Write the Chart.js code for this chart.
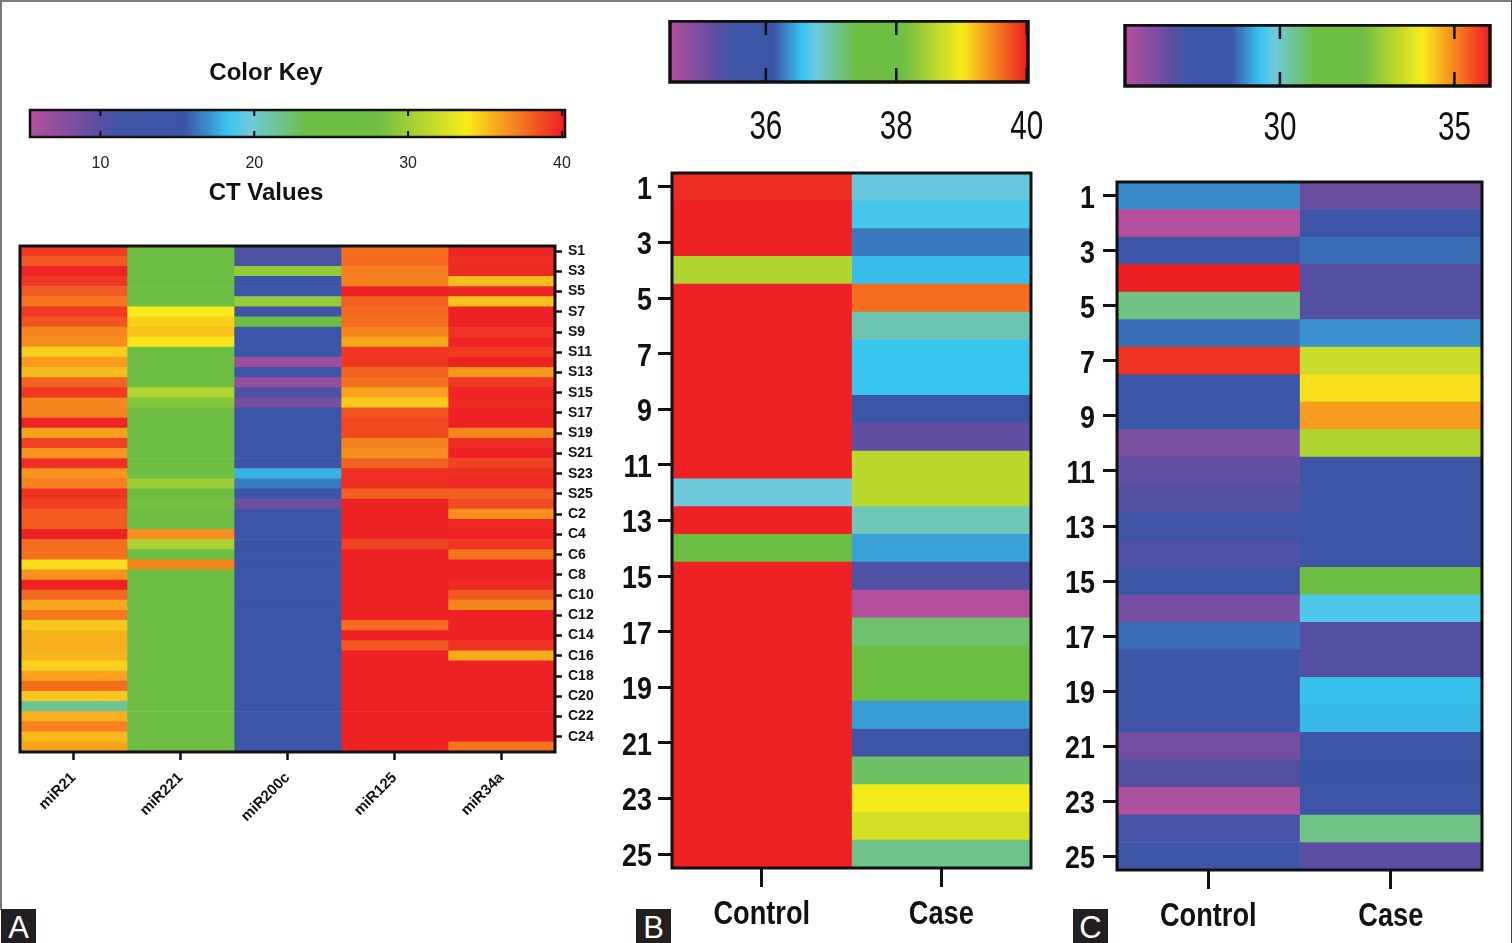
<!DOCTYPE html>
<html><head><meta charset="utf-8">
<script src="https://cdn.jsdelivr.net/npm/chart.js@4"></script>
<style>
html,body{margin:0;padding:0;background:#fff;overflow:hidden}
#page{position:relative;width:1512px;height:943px;background:#fff;overflow:hidden}
#page canvas{position:absolute;filter:blur(.55px)}
.edge{position:absolute;background:#7b7b7b}
.tag{position:absolute;top:909px;width:35px;height:34px;background:#231f20;color:#fff;font:31px/37px "Liberation Sans",sans-serif;text-align:center}
</style></head><body><div id="page">
<div class="edge" style="left:0;top:0;width:1512px;height:2px"></div>
<div class="edge" style="left:0;top:0;width:2px;height:910px"></div>
<div class="edge" style="left:1511px;top:0;width:1px;height:943px;background:#444"></div>
<div class="tag" style="left:1px">A</div>
<div class="tag" style="left:636px">B</div>
<div class="tag" style="left:1073px">C</div>
</div>
<script>
// ---------- categories ----------
const rowsA = ['S1','S2','S3','S4','S5','S6','S7','S8','S9','S10','S11','S12','S13','S14','S15','S16','S17','S18','S19','S20','S21','S22','S23','S24','S25','C1','C2','C3','C4','C5','C6','C7','C8','C9','C10','C11','C12','C13','C14','C15','C16','C17','C18','C19','C20','C21','C22','C23','C24','C25'];
const rowsBC = ['1','2','3','4','5','6','7','8','9','10','11','12','13','14','15','16','17','18','19','20','21','22','23','24','25'];
const colsA = ['miR21','miR221','miR200c','miR125','miR34a'];
const colsBC = ['Control','Case'];
// ---------- colour key ----------
const keyStops = [0,0.13,0.17,0.29,0.37,0.41,0.52,0.65,0.815,0.89,1];
const keyColors = ['#b44f9e','#5a4ea2','#3f55a6','#3b55a6','#38c5f0','#6ec9dc','#6fbe44','#6fbe44','#f8ec1a','#f7941e','#ed1c24'];
const rangeA = [5.42,40.2], rangeB = [34.53,40.02], rangeC = [25.56,36.02];
const keyTicksA = [10,20,30,40], keyTicksB = [36,38,40], keyTicksC = [30,35];
// ---------- CT values, panel A ----------
const miR21 = [39.2,38.3,39.9,39.3,38.2,37.4,39.2,38.4,36.8,36.6,34.7,36.2,35.2,37.9,39.2,36.8,36.9,39.9,36,39,36.4,39.6,36.4,37,39.5,39,38.2,38.1,40,37.6,37.6,34.2,36.5,40,37.8,35.8,37.2,34.8,35.5,35.6,35.4,34.6,36,37.6,34.9,21.5,35.5,37,35.3,35.9];
const miR221 = [26,26.5,27.5,26,26,28,33.8,34.6,35,34,26,26,26,26,30.8,29,26,26,28,28,26.5,26,26,30,26,28.3,26,26.8,36.6,30.5,27,36.8,26.5,26.5,26,26,26,26,26,26.3,26,26.6,26,26,26,26,26,26,26,26];
const miR200c = [10.5,10.8,29.5,13,13,29.7,12,26,13,13,13,6.5,14,7,10.5,8.5,13,13,13,13,13,14,17.8,16.5,13,9,13,13.5,14.5,15,12.5,15,13,13,13,15.5,13,13,13,13,13,13,13,13,13,13,13,13,13,13];
const miR125 = [37.6,37.7,37,37,40,38,37.7,37.6,36.8,35.8,39.3,39.3,38,37.5,36,34.8,38.4,38.8,38.8,37,36.6,38,39.6,39.7,38,40,40,40,40,39,40,40,40,40,40,40,40,37.7,40,38.3,40,40,40,40,40,40,40,40,40,40];
const miR34a = [39.9,39.7,39.8,35.2,39.9,35,40,40,39.4,39.9,39.2,40,36.3,39.3,39.9,39.8,40,40,36.8,39.7,40,39,39.6,39.8,38,38.7,36.5,39.8,40,39.4,37.4,40,40,39.7,38.3,36.8,40,40,40,39.5,35.6,40,40,40,40,40,40,40,40,37.4];
// ---------- CT values, panel B ----------
const controlB = [39.94,40,40,38.54,40,40,40,40,40,40,40,36.78,40,37.71,40,40,40,40,40,40,40,40,40,40,40];
const caseB = [36.75,36.62,36.26,36.53,39.61,36.95,36.57,36.57,35.9,35.19,38.59,38.59,36.92,36.42,35.33,34.53,37.22,37.71,37.71,36.4,35.63,37.25,38.98,38.76,37.11];
// ---------- CT values, panel C ----------
const controlC = [29,25.56,28.1,36,30.54,28.76,35.8,28.1,28.1,26.45,26.8,27,27.6,27.08,27.8,26.5,28.76,27.6,27.7,27.7,26.55,27,25.7,27.18,27.8];
const caseC = [26.65,28.1,28.76,27,27,29.05,33.48,34.2,34.8,33.17,28.1,28.1,28.1,28.1,31.6,29.6,27,27,29.4,29.33,28.1,28.44,28.1,30.5,26.9];

const hex = h => [1,3,5].map(i => parseInt(h.substr(i,2),16));
function colorOf(v, range){
  const f = Math.min(1, Math.max(0, (v-range[0])/(range[1]-range[0])));
  let i = 0; while (i < keyStops.length-2 && f > keyStops[i+1]) i++;
  const t = (f-keyStops[i])/(keyStops[i+1]-keyStops[i]);
  const a = hex(keyColors[i]), b = hex(keyColors[i+1]);
  return 'rgb('+a.map((c,k)=>Math.round(c+(b[k]-c)*t)).join(',')+')';
}
// Tick labels squeezed horizontally: the reference sets them in a condensed face.
function squeezed(ctx, text, x, y, o, align){
  ctx.save();
  ctx.translate(x,y); ctx.scale(o.squeeze,1);
  ctx.font = (o.weight||'normal')+' '+o.size+'px "Liberation Sans"';
  ctx.fillStyle = '#111'; ctx.textBaseline = 'middle'; ctx.textAlign = align;
  ctx.fillText(text,0,0);
  ctx.restore();
}
const frame = {
  id:'frame',
  afterDatasetsDraw(chart, args, o){
    const {ctx, chartArea:a, scales} = chart;
    ctx.save(); ctx.strokeStyle = '#111'; ctx.lineWidth = o.width;
    ctx.strokeRect(a.left, a.top, a.right-a.left, a.bottom-a.top);
    if (o.mark){
      ctx.lineWidth = o.markWidth;
      scales.x.ticks.forEach(t => {
        const x = scales.x.getPixelForValue(t.value);
        ctx.beginPath();
        ctx.moveTo(x,a.top); ctx.lineTo(x,a.top+o.mark);
        ctx.moveTo(x,a.bottom); ctx.lineTo(x,a.bottom-o.mark);
        ctx.stroke();
      });
    }
    ctx.restore();
    if (o.xLabels) scales.x.ticks.forEach(t =>
      squeezed(ctx, t.label, scales.x.getPixelForValue(t.value), a.bottom+o.xLabels.offset, o.xLabels, 'center'));
    if (o.yLabels) scales.y.ticks.forEach(t =>
      squeezed(ctx, t.label, a.left-o.yLabels.offset, scales.y.getPixelForValue(t.value)+3, o.yLabels, 'right'));
  }
};
function newCanvas(b){
  const c = document.createElement('canvas');
  c.width = b.w; c.height = b.h;
  c.style.left = b.x+'px'; c.style.top = b.y+'px'; c.style.width = b.w+'px'; c.style.height = b.h+'px';
  document.getElementById('page').appendChild(c);
  return c;
}
function heatmap(s){
  const b = s.box, r = s.range;
  new Chart(newCanvas(b), {
    type:'bar',
    data:{labels:s.rows, datasets:s.cols.map((name,i)=>({
      label:name,
      data:s.rows.map((row,j)=>({y:row, x:1, ct:s.values[i][j]})),
      backgroundColor:ctx => ctx.raw ? colorOf(ctx.raw.ct, r) : '#fff',
      borderWidth:0, barPercentage:1, categoryPercentage:1
    }))},
    options:{
      indexAxis:'y', responsive:false, animation:false,
      events:[],
      layout:{padding:s.padding},
      plugins:{legend:{display:false}, tooltip:{enabled:false}, frame:{width:s.frameWidth, xLabels:s.xLabels, yLabels:s.yLabels}},
      scales:{
        x:{type:'linear', stacked:true, min:0, max:s.cols.length,
          afterBuildTicks(a){ a.ticks = s.cols.map((_,i)=>({value:i+0.5})); },
          afterFit(a){ a.height = s.xHeight; a.paddingLeft = 0; a.paddingRight = 0; },
          border:{display:false},
          grid:{display:true, drawOnChartArea:false, drawTicks:true, tickLength:s.xTick, tickWidth:s.tickWidth, tickColor:'#111'},
          ticks:{display:!s.xLabels, autoSkip:false, minRotation:s.rotation||0, maxRotation:s.rotation||0, padding:s.xPad||0, color:'#111', font:s.xFont,
            callback:v => s.cols[Math.floor(v)]}
        },
        y:{type:'category', stacked:true, position:s.yPos,
          afterBuildTicks(a){ a.ticks = a.ticks.filter((t,i)=>i%2===0); },
          afterFit(a){ a.width = s.yWidth; a.paddingTop = 0; a.paddingBottom = 0; },
          border:{display:false},
          grid:{display:true, offset:false, drawOnChartArea:false, drawTicks:true, tickLength:s.yTick, tickWidth:s.tickWidth, tickColor:'#111'},
          ticks:{display:!s.yLabels, autoSkip:false, padding:s.yPad||0, color:'#111', font:s.yFont,
            callback:v => s.rows[v]}
        }
      }
    },
    plugins:[frame]
  });
}
function colorKey(s){
  const b = s.box, r = s.range;
  const plugins = {legend:{display:false}, tooltip:{enabled:false}, frame:{width:s.frameWidth, mark:s.mark, markWidth:s.markWidth, xLabels:s.xLabels}};
  if (s.title) plugins.title = {display:true, text:s.title, color:'#111', font:s.titleFont, padding:{top:0,bottom:s.titleGap}};
  if (s.axisTitle) plugins.subtitle = {display:true, position:'bottom', text:s.axisTitle, color:'#111', font:s.titleFont, padding:0};
  new Chart(newCanvas(b), {
    type:'bar',
    data:{labels:['key'], datasets:[{
      data:[r],
      backgroundColor(ctx){
        const a = ctx.chart.chartArea;
        if (!a) return '#fff';
        const g = ctx.chart.ctx.createLinearGradient(a.left,0,a.right,0);
        keyStops.forEach((p,i)=>g.addColorStop(p,keyColors[i]));
        return g;
      },
      borderWidth:0, barPercentage:1, categoryPercentage:1
    }]},
    options:{
      indexAxis:'y', responsive:false, animation:false, events:[],
      layout:{padding:s.padding},
      plugins,
      scales:{
        x:{type:'linear', min:r[0], max:r[1],
          afterBuildTicks(a){ a.ticks = s.ticks.map(v=>({value:v})); },
          afterFit(a){ a.height = s.xHeight; a.paddingLeft = 0; a.paddingRight = 0; },
          border:{display:false}, grid:{display:false},
          ticks:{display:!s.xLabels, autoSkip:false, maxRotation:0, padding:s.xPad||0, color:'#222', font:s.tickFont}
        },
        y:{type:'category', display:s.yWidth>0, border:{display:false}, grid:{display:false}, ticks:{display:false},
          afterFit(a){ a.width = s.yWidth||0; a.paddingTop = 0; a.paddingBottom = 0; }}
      }
    },
    plugins:[frame]
  });
}
const boldA = size => ({family:'"Liberation Sans"', weight:'bold', size});
const keyLabel = offset => ({size:40, squeeze:0.74, offset});
const axisLabel = {size:34, weight:'bold', squeeze:0.8, offset:47};
const rowLabel = offset => ({size:32, weight:'bold', squeeze:0.84, offset});

colorKey({range:rangeA, ticks:keyTicksA, box:{x:-33,y:59,w:618,h:149}, padding:{left:0,right:20,top:0,bottom:0}, yWidth:63,
  xHeight:42.2, xPad:9, mark:6, markWidth:2, frameWidth:2.5, title:'Color Key', axisTitle:'CT Values', titleGap:22.2,
  titleFont:boldA(24), tickFont:{family:'"Liberation Sans"', size:16}});
colorKey({range:rangeB, ticks:keyTicksB, box:{x:648,y:20,w:420,h:130}, padding:{left:22,right:40,top:1,bottom:0},
  xHeight:68, mark:14, markWidth:2.5, frameWidth:3.5, xLabels:keyLabel(46)});
colorKey({range:rangeC, ticks:keyTicksC, box:{x:1100,y:24,w:412,h:130}, padding:{left:25,right:22,top:1,bottom:0},
  xHeight:68, mark:14, markWidth:2.5, frameWidth:3.5, xLabels:keyLabel(43)});

heatmap({rows:rowsA, cols:colsA, values:[miR21,miR221,miR200c,miR125,miR34a], range:rangeA,
  box:{x:0,y:236,w:610,h:630}, padding:{left:20,right:0,top:10,bottom:0}, yPos:'right', yWidth:55, xHeight:114,
  frameWidth:3, tickWidth:2.5, xTick:8, yTick:7, xPad:9, yPad:6, rotation:45,
  xFont:boldA(15), yFont:boldA(14)});
heatmap({rows:rowsBC, cols:colsBC, values:[controlB,caseB], range:rangeB,
  box:{x:620,y:163,w:420,h:780}, padding:{left:0,right:9,top:10,bottom:0}, yPos:'left', yWidth:52, xHeight:75,
  frameWidth:3, tickWidth:3, xTick:19, yTick:14,
  xLabels:axisLabel, yLabels:rowLabel(20)});
heatmap({rows:rowsBC, cols:colsBC, values:[controlC,caseC], range:rangeC,
  box:{x:1060,y:172,w:440,h:771}, padding:{left:0,right:18,top:10,bottom:0}, yPos:'left', yWidth:57, xHeight:73,
  frameWidth:3, tickWidth:3, xTick:19, yTick:14,
  xLabels:axisLabel, yLabels:rowLabel(22)});
</script></body></html>
